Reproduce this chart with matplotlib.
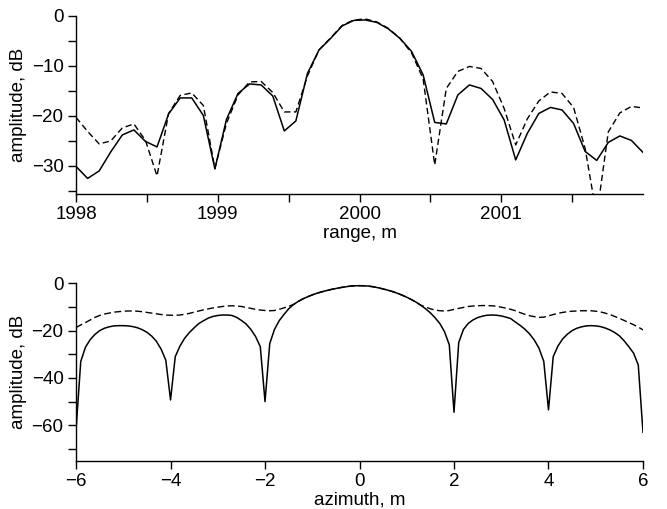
import numpy as np
import matplotlib
matplotlib.use('Agg')
import matplotlib.pyplot as plt
from matplotlib.ticker import MultipleLocator, FixedLocator

plt.rcParams['font.family'] = ['Liberation Sans', 'DejaVu Sans']
plt.rcParams['font.size'] = 13.5

# range cut, 50 samples from 1998 to 2002 m
rng_x = np.linspace(1998, 2002, 50)
rng_solid = [-30.1, -32.5, -31.0, -27.2, -23.8, -22.8, -25.1, -26.2, -19.6, -16.4,
             -16.4, -19.9, -30.6, -20.7, -15.5, -13.6, -13.8, -16.0, -23.0, -21.0,
             -11.5, -6.8, -4.5, -2.0, -0.9, -0.8, -1.3, -2.6, -4.5, -7.1,
             -11.8, -21.3, -21.6, -15.8, -13.8, -14.5, -16.7, -20.8, -28.8, -23.5,
             -19.5, -18.3, -18.8, -21.5, -27.1, -28.9, -25.3, -24.0, -24.9, -27.3]
rng_dashed = [-20.3, -23.1, -25.6, -25.0, -22.4, -21.6, -24.9, -32.0, -19.5, -15.9,
              -15.4, -17.9, -30.5, -21.5, -15.8, -13.2, -13.1, -15.3, -19.2, -19.2,
              -12.0, -6.8, -4.4, -1.9, -0.8, -0.6, -1.2, -2.5, -4.5, -7.4,
              -12.6, -29.8, -14.5, -11.1, -10.1, -10.5, -13.1, -18.5, -25.8, -20.6,
              -17.0, -15.2, -15.5, -18.3, -26.5, -40.0, -23.2, -19.4, -18.1, -18.4]

# azimuth cut, step 0.1 m from -6 to 6
az_x = np.linspace(-6, 6, 121)
az_solid = [-62.0, -33.0, -27.0, -23.8, -21.6, -20.0, -19.0, -18.4, -18.0, -17.9,
            -17.9, -18.0, -18.3, -18.8, -19.6, -20.7, -22.3, -24.5, -27.8, -32.5,
            -49.3, -31.0, -26.5, -23.2, -20.8, -18.8, -17.0, -15.8, -14.7, -14.0,
            -13.6, -13.4, -13.4, -13.6, -14.4, -15.7, -17.2, -19.5, -22.5, -26.8,
            -50.0, -25.5, -19.5, -15.8, -13.2, -10.8, -9.0, -7.7, -6.6, -5.7,
            -4.9, -4.2, -3.6, -3.1, -2.6, -2.2, -1.8, -1.5, -1.2, -1.05,
            -1.0,
            -1.05, -1.2, -1.5, -1.9, -2.4, -2.9, -3.5, -4.2, -5.0, -5.9,
            -6.9, -8.0, -9.3, -10.8, -12.5, -14.6, -17.0, -20.5, -26.0, -54.5,
            -25.0, -19.5, -17.0, -15.5, -14.5, -13.9, -13.5, -13.4, -13.5, -13.8,
            -14.3, -14.9, -16.4, -17.8, -19.4, -21.4, -24.0, -27.5, -33.0, -53.5,
            -31.0, -26.5, -23.5, -21.5, -20.0, -19.0, -18.4, -18.0, -17.9, -18.0,
            -18.3, -18.9, -19.7, -20.8, -22.2, -24.3, -26.8, -29.5, -34.5, -63.0]
az_dashed = [-18.7, -17.6, -16.6, -15.5, -14.4, -13.6, -13.0, -12.6, -12.2, -12.0,
             -11.8, -11.7, -11.7, -11.8, -12.0, -12.3, -12.6, -12.9, -13.2, -13.4,
             -13.5, -13.5, -13.4, -13.1, -12.7, -12.2, -11.7, -11.2, -10.8, -10.4,
             -10.1, -9.8, -9.6, -9.5, -9.6, -9.8, -10.2, -10.6, -11.0, -11.3,
             -11.5, -11.6, -11.5, -11.0, -10.4, -9.7, -9.0, -7.7, -6.6, -5.7,
             -4.9, -4.2, -3.6, -3.1, -2.6, -2.2, -1.8, -1.5, -1.2, -1.05,
             -1.0,
             -1.05, -1.2, -1.5, -1.9, -2.4, -2.9, -3.5, -4.2, -5.0, -5.9,
             -6.9, -8.0, -9.3, -10.0, -10.8, -11.3, -11.6, -11.7, -11.5, -11.0,
             -10.6, -10.2, -9.8, -9.6, -9.5, -9.4, -9.4, -9.5, -9.7, -10.1,
             -10.5, -11.0, -11.6, -12.4, -13.1, -13.7, -14.1, -14.4, -14.3, -13.8,
             -13.2, -12.7, -12.3, -12.0, -11.8, -11.7, -11.6, -11.6, -11.6, -11.8,
             -12.1, -12.6, -13.2, -14.0, -14.8, -15.7, -16.6, -17.5, -18.5, -19.7]

fig = plt.figure(figsize=(6.67, 5.09), dpi=100)


def style(ax):
    ax.spines['top'].set_visible(False)
    ax.spines['right'].set_visible(False)
    ax.spines['left'].set_linewidth(1.0)
    ax.spines['bottom'].set_linewidth(1.0)
    ax.tick_params(which='both', direction='out', length=5.5, width=1.0, pad=3.5)
    ax.set_ylabel('amplitude, dB', labelpad=3)


# top: range
ax1 = fig.add_axes([0.114, 0.619, 0.850, 0.3497])
ax1.plot(rng_x, rng_dashed, color='k', lw=1.0, dashes=(4.5, 2.5))
ax1.plot(rng_x, rng_solid, color='k', lw=1.1)
ax1.set_xlim(1998, 2002)
ax1.set_ylim(-35.6, 0)
ax1.xaxis.set_major_locator(FixedLocator([1998, 1999, 2000, 2001]))
ax1.xaxis.set_minor_locator(FixedLocator([1998.5, 1999.5, 2000.5, 2001.5]))
ax1.yaxis.set_major_locator(MultipleLocator(10))
ax1.yaxis.set_minor_locator(MultipleLocator(5))
style(ax1)
ax1.set_xlabel('range, m', labelpad=1)

# bottom: azimuth
ax2 = fig.add_axes([0.114, 0.0949, 0.850, 0.3485])
ax2.plot(az_x, az_dashed, color='k', lw=1.0, dashes=(5, 2.5))
ax2.plot(az_x, az_solid, color='k', lw=1.1)
ax2.set_xlim(-6, 6)
ax2.set_ylim(-75, 0)
ax2.xaxis.set_major_locator(MultipleLocator(2))
ax2.yaxis.set_major_locator(MultipleLocator(20))
ax2.yaxis.set_minor_locator(MultipleLocator(10))
style(ax2)
ax2.set_xlabel('azimuth, m', labelpad=1)

fig.savefig('out.png', dpi=100)
